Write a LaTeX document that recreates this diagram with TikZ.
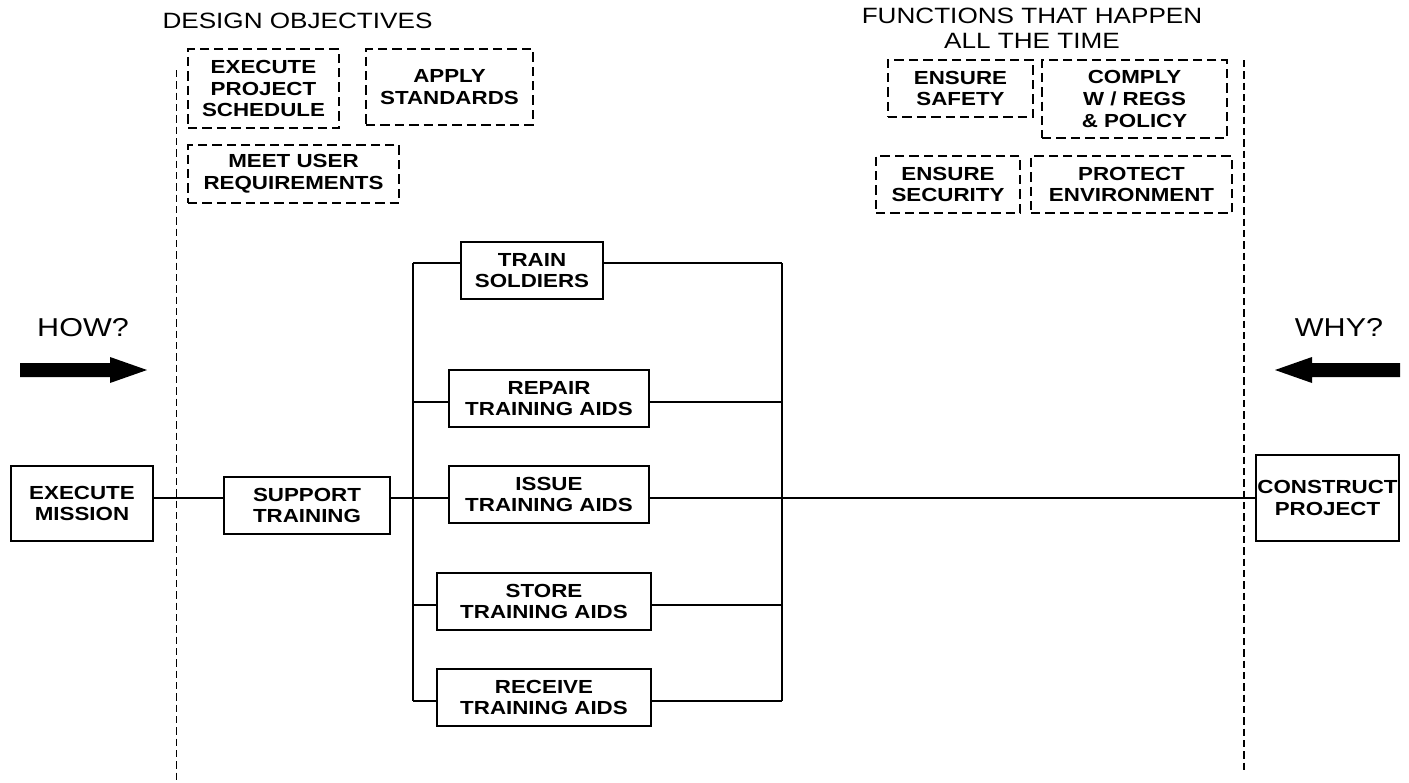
\documentclass[tikz,border=0pt]{standalone}
\usepackage{fontspec}
\setmainfont{Liberation Sans}[FakeStretch=1.18]

\tikzset{every picture/.style={line width=0.9pt}}
\tikzset{
  sz/.style 2 args={minimum width=#1*0.75pt, minimum height=#2*0.75pt},
  funcbox/.style={draw, line width=1.1pt, align=center, inner sep=0pt,
    font=\bfseries\fontsize{14.2}{16.3}\selectfont},
  objbox/.style={funcbox, line width=1.3pt, dash pattern={on 7pt off 3.8pt}},
  head/.style={align=center, inner sep=0pt, font=\fontsize{16.6}{18.75}\selectfont},
  qtext/.style={inner sep=0pt, font=\fontsize{19.4}{22}\selectfont},
  divider/.style={line width=0.9pt, dash pattern={on 5.5pt off 3pt}},
}

\begin{document}
\begin{tikzpicture}[x=0.75pt,y=0.75pt,yscale=-1,xscale=1]
\useasboundingbox (0,0) rectangle (1409,782);

% Text Node
\node (desobj) at (297.5,20.5) [head] {DESIGN OBJECTIVES};
% Text Node
\node (always) at (1032,28) [head] {FUNCTIONS THAT HAPPEN\\ALL THE TIME};
% Text Node
\node (how) at (83,327.5) [qtext] {HOW?};
% Text Node
\node (why) at (1339,327.5) [qtext] {WHY?};

%Dashed boxes: design objectives
\node (schedule) at (263.5,88.5) [objbox, sz={151}{79}] {EXECUTE\\PROJECT\\SCHEDULE};
\node (apply) at (449.5,87) [objbox, sz={167}{76}] {APPLY\\STANDARDS};
\node (userreq) at (293.5,174) [objbox, sz={211}{58}] {MEET USER\\REQUIREMENTS};
%Dashed boxes: all the time
\node (safety) at (960.5,88.5) [objbox, sz={145}{57}] {ENSURE\\SAFETY};
\node (comply) at (1134.5,99) [objbox, sz={185}{78}] {COMPLY\\W / REGS\\\& POLICY};
\node (security) at (948,184.5) [objbox, sz={144}{57}] {ENSURE\\SECURITY};
\node (environ) at (1131.5,184.5) [objbox, sz={201}{57}] {PROTECT\\ENVIRONMENT};

%Function boxes
\node (mission) at (82,503.5) [funcbox, sz={142}{75}] {EXECUTE\\MISSION};
\node (support) at (307,505.5) [funcbox, sz={166}{57}] {SUPPORT\\TRAINING};
\node (train) at (532,270.5) [funcbox, sz={142}{57}] {TRAIN\\SOLDIERS};
\node (repair) at (549,398.5) [funcbox, sz={200}{57}] {REPAIR\\TRAINING AIDS};
\node (issue) at (549,494.5) [funcbox, sz={200}{57}] {ISSUE\\TRAINING AIDS};
\node (store) at (544,601.5) [funcbox, sz={214}{57}] {STORE\\TRAINING AIDS};
\node (receive) at (544,697.5) [funcbox, sz={214}{57}] {RECEIVE\\TRAINING AIDS};
\node (construct) at (1327.5,498) [funcbox, sz={143}{86}] {CONSTRUCT\\PROJECT};

%Scope lines
\coordinate (divLtop) at (176.5,70);
\coordinate (divLbot) at (176.5,782);
\coordinate (divRtop) at (1244,60);
\coordinate (divRbot) at (1244,772);
\draw [divider] (divLtop) -- (divLbot);
\draw [divider] (divRtop) -- (divRbot);

%Bus points
\coordinate (lTrain) at (413,263);
\coordinate (lRepair) at (413,402);
\coordinate (lIssue) at (413,498);
\coordinate (lStore) at (413,605);
\coordinate (lReceive) at (413,701);
\coordinate (rTrain) at (782,263);
\coordinate (rRepair) at (782,402);
\coordinate (rIssue) at (782,498);
\coordinate (rStore) at (782,605);
\coordinate (rReceive) at (782,701);

%Straight Lines: buses
\draw (lTrain) -- (lReceive);
\draw (rTrain) -- (rReceive);
%Straight Lines: critical path
\draw (mission.east |- lIssue) -- (support.west |- lIssue);
\draw (support.east |- lIssue) -- (lIssue);
\draw (lIssue) -- (lIssue -| issue.west);
\draw (issue.east |- rIssue) -- (rIssue) -- (rIssue -| construct.west);
%Straight Lines: branches
\draw (lTrain) -- (lTrain -| train.west);
\draw (train.east |- rTrain) -- (rTrain);
\draw (lRepair) -- (lRepair -| repair.west);
\draw (repair.east |- rRepair) -- (rRepair);
\draw (lStore) -- (lStore -| store.west);
\draw (store.east |- rStore) -- (rStore);
\draw (lReceive) -- (lReceive -| receive.west);
\draw (receive.east |- rReceive) -- (rReceive);

%Block arrows
\fill (20,363) -- (110,363) -- (110,357) -- (147,370) -- (110,383) -- (110,377) -- (20,377) -- cycle;
\fill (1400,363) -- (1312,363) -- (1312,357) -- (1275,370) -- (1312,383) -- (1312,377) -- (1400,377) -- cycle;

\end{tikzpicture}
\end{document}
